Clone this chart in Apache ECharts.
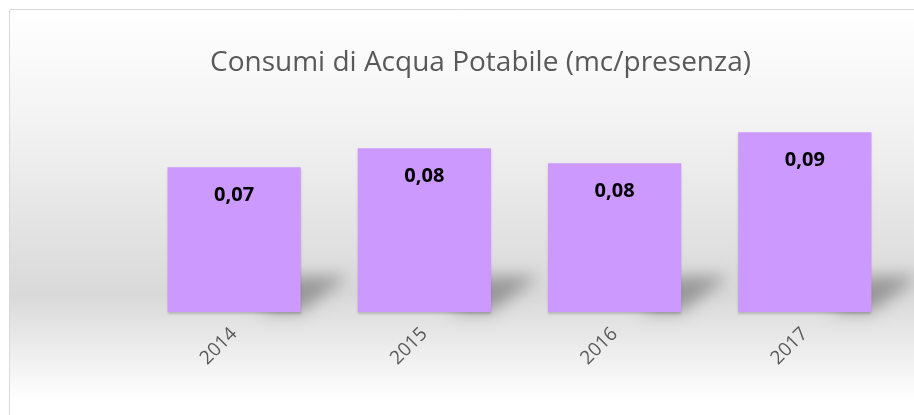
<!DOCTYPE html>
<html>
<head>
<meta charset="utf-8">
<script src="https://cdn.jsdelivr.net/npm/echarts@6/dist/echarts.min.js"></script>
<style>
  html, body { margin: 0; padding: 0; background: #fff; }
  #chart { width: 914px; height: 415px; }
</style>
</head>
<body>
<div id="chart"></div>
<script>
// dati
const years = ['2014', '2015', '2016', '2017']
const consumi = [0.0744, 0.0815, 0.0759, 0.0875]
const yMin = 0.02
const barColor = '#cc99ff'
const textGray = '#595959'

const chart = echarts.init(document.getElementById('chart'))

// ombra prospettica dietro le barre (solo l'ombra sfocata, la forma sta fuori schermo)
const OFF = 2000
function renderShadow (params, api) {
  const top = api.coord([api.value(0), api.value(1)])
  const base = api.coord([api.value(0), yMin])
  const w = api.size([1, 0])[0] * 0.7
  const right = base[0] + w / 2
  const h = Math.min(36, base[1] - top[1])
  return {
    type: 'polygon',
    shape: {
      points: [[right - 40 - OFF, base[1]], [right - OFF, base[1]], [right + 48 - OFF, base[1] - h], [right - 5 - OFF, base[1] - h]]
    },
    style: {
      fill: '#000',
      shadowColor: 'rgba(0,0,0,0.3)',
      shadowBlur: 16,
      shadowOffsetX: OFF
    }
  }
}

const option = {
  animation: false,
  graphic: [{
    type: 'rect',
    z: -10,
    shape: { x: 9.5, y: 9.5, width: 920, height: 420 },
    style: {
      stroke: '#d9d9d9',
      lineWidth: 1,
      fill: {
        type: 'linear', x: 0, y: 0, x2: 0, y2: 1,
        colorStops: [
          { offset: 0, color: '#ffffff' },
          { offset: 0.25, color: '#f4f4f4' },
          { offset: 0.68, color: '#d9d9d9' },
          { offset: 0.93, color: '#ffffff' },
          { offset: 1, color: '#ffffff' }
        ]
      }
    }
  }],
  title: {
    text: 'Consumi di Acqua Potabile (mc/presenza)',
    left: 205,
    top: 44,
    textStyle: {
      color: textGray,
      fontFamily: 'Open Sans',
      fontWeight: 'normal',
      fontSize: 28
    }
  },
  grid: { left: 139, right: 14, top: 99, bottom: 103 },
  xAxis: {
    type: 'category',
    data: years,
    axisLine: { show: false },
    axisTick: { show: false },
    axisLabel: {
      rotate: 45,
      margin: 19,
      color: textGray,
      fontFamily: 'Open Sans',
      fontSize: 19
    }
  },
  yAxis: {
    type: 'value',
    min: yMin,
    max: 0.1,
    show: false
  },
  series: [
    {
      type: 'custom',
      renderItem: renderShadow,
      clip: false,
      silent: true,
      z: 1,
      data: consumi.map((v, i) => [i, v])
    },
    {
      type: 'bar',
      data: consumi,
      barWidth: '70%',
      z: 2,
      itemStyle: {
        color: barColor,
        shadowColor: 'rgba(0,0,0,0.18)',
        shadowBlur: 2,
        shadowOffsetY: 2
      },
      label: {
        show: true,
        position: 'insideTop',
        distance: 18,
        color: '#000',
        fontFamily: 'Open Sans',
        fontWeight: 'bold',
        fontSize: 20,
        formatter: p => p.value.toFixed(2).replace('.', ',')
      }
    }
  ]
}

chart.setOption(option)
</script>
</body>
</html>
